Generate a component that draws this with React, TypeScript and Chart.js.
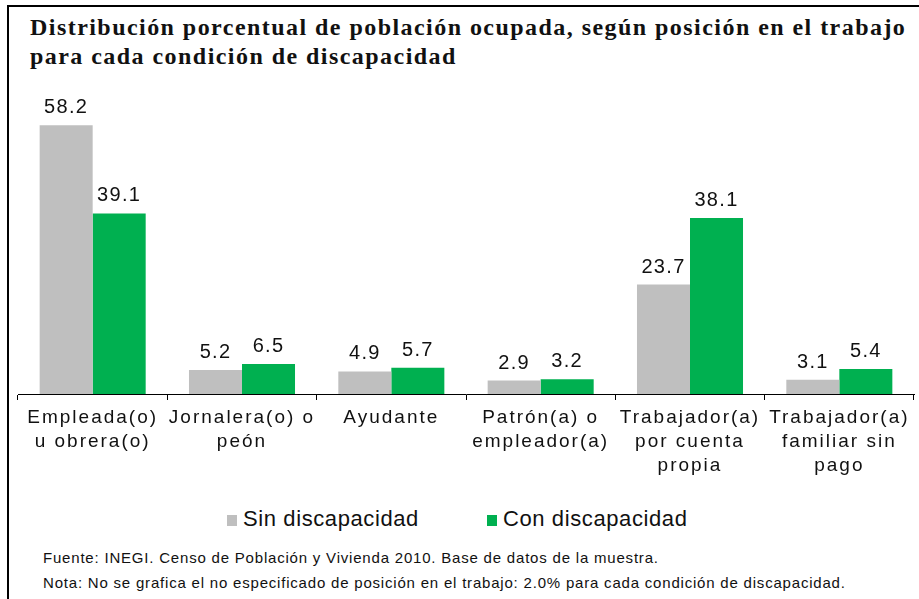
import React, { useEffect, useRef } from "react";
import { Chart, registerables } from "chart.js";

Chart.register(...registerables);

const categories: string[][] = [
  ["Empleada(o)", "u obrera(o)"],
  ["Jornalera(o) o", "peón"],
  ["Ayudante"],
  ["Patrón(a) o", "empleador(a)"],
  ["Trabajador(a)", "por cuenta", "propia"],
  ["Trabajador(a)", "familiar sin", "pago"],
];
const seriesNames = ["Sin discapacidad", "Con discapacidad"];
const sinDiscapacidad = [58.2, 5.2, 4.9, 2.9, 23.7, 3.1];
const conDiscapacidad = [39.1, 6.5, 5.7, 3.2, 38.1, 5.4];
const colors = ["#BFBFBF", "#00B050"];

const titleLines = [
  "Distribución porcentual de población ocupada, según posición en el trabajo",
  "para cada condición de discapacidad",
];
const footerLines = [
  "Fuente: INEGI. Censo de Población y Vivienda 2010. Base de datos de la muestra.",
  "Nota: No se grafica el no especificado de posición en el trabajo: 2.0% para cada condición de discapacidad.",
];

const SANS = "'Liberation Sans', Arial, sans-serif";
const TEXT = "#111";

const spacingPlugin = {
  id: "spacing",
  beforeDraw(chart: any) {
    chart.ctx.letterSpacing = "2px";
  },
  afterDraw(chart: any) {
    chart.ctx.letterSpacing = "0px";
  },
};

const labelPlugin = {
  id: "valueLabels",
  afterDatasetsDraw(chart: any) {
    const ctx = chart.ctx;
    ctx.save();
    ctx.letterSpacing = "1.3px";
    ctx.font = `20px ${SANS}`;
    ctx.fillStyle = TEXT;
    ctx.textAlign = "center";
    ctx.textBaseline = "alphabetic";
    chart.data.datasets.forEach((ds: any, i: number) => {
      const meta = chart.getDatasetMeta(i);
      meta.data.forEach((bar: any, j: number) => {
        const v = ds.data[j] as number;
        ctx.fillText(v.toFixed(1), bar.x, bar.y - 12);
      });
    });
    ctx.restore();
  },
};

export default function App() {
  const ref = useRef<HTMLCanvasElement | null>(null);

  useEffect(() => {
    if (!ref.current) return;
    const chart = new Chart(ref.current, {
      type: "bar",
      data: {
        labels: categories,
        datasets: [
          {
            label: seriesNames[0],
            data: sinDiscapacidad,
            backgroundColor: colors[0],
            borderWidth: 0,
          },
          {
            label: seriesNames[1],
            data: conDiscapacidad,
            backgroundColor: colors[1],
            borderWidth: 0,
          },
        ],
      },
      options: {
        animation: false,
        responsive: false,
        maintainAspectRatio: false,
        events: [],
        layout: { padding: { left: 18, right: 5, top: 37, bottom: 3 } },
        datasets: {
          bar: { categoryPercentage: 0.71, barPercentage: 1 },
        },
        plugins: {
          legend: { display: false },
          tooltip: { enabled: false },
          title: { display: false },
        },
        scales: {
          x: {
            grid: {
              display: true,
              drawOnChartArea: false,
              drawTicks: true,
              tickLength: 6,
              color: "#000",
              lineWidth: 1,
            },
            border: { display: true, color: "#000", width: 1 },
            ticks: {
              color: TEXT,
              padding: 6,
              maxRotation: 0,
              autoSkip: false,
              font: { family: SANS, size: 19, lineHeight: 1.263 },
            },
          },
          y: {
            display: false,
            min: 0,
            max: 60,
          },
        },
      },
      plugins: [spacingPlugin, labelPlugin],
    });
    return () => chart.destroy();
  }, []);

  return (
    <div
      style={{
        position: "absolute",
        left: 0,
        top: 0,
        width: 919,
        height: 599,
        background: "#fff",
        overflow: "hidden",
      }}
    >
      <div
        style={{
          position: "absolute",
          left: 7,
          top: 5,
          right: 0,
          bottom: 0,
          borderLeft: "2px solid #000",
          borderTop: "2px solid #000",
        }}
      />
      <div
        style={{
          position: "absolute",
          left: 30,
          top: 13,
          fontFamily: "'Liberation Serif', 'Times New Roman', serif",
          fontWeight: "bold",
          fontSize: 24,
          lineHeight: "29px",
          letterSpacing: "1.45px",
          color: TEXT,
          whiteSpace: "nowrap",
        }}
      >
        {titleLines.map((t, i) => (
          <div key={i}>{t}</div>
        ))}
      </div>
      <canvas
        ref={ref}
        width={919}
        height={407}
        style={{ position: "absolute", left: 0, top: 80, width: 919, height: 407 }}
      />
      {seriesNames.map((name, i) => (
        <div
          key={name}
          style={{
            position: "absolute",
            left: [227, 487][i],
            top: 508,
            height: 22,
            display: "flex",
            alignItems: "center",
            fontFamily: SANS,
            fontSize: 22,
            lineHeight: "22px",
            letterSpacing: "0.6px",
            color: TEXT,
            whiteSpace: "nowrap",
          }}
        >
          <span
            style={{
              display: "inline-block",
              width: 10,
              height: 11,
              background: colors[i],
              marginRight: 6,
              marginTop: 2,
            }}
          />
          <span>{name}</span>
        </div>
      ))}
      <div
        style={{
          position: "absolute",
          left: 43,
          top: 545,
          fontFamily: SANS,
          fontSize: 15,
          lineHeight: "25px",
          letterSpacing: "0.8px",
          color: TEXT,
          whiteSpace: "nowrap",
        }}
      >
        {footerLines.map((t, i) => (
          <div key={i}>{t}</div>
        ))}
      </div>
    </div>
  );
}
